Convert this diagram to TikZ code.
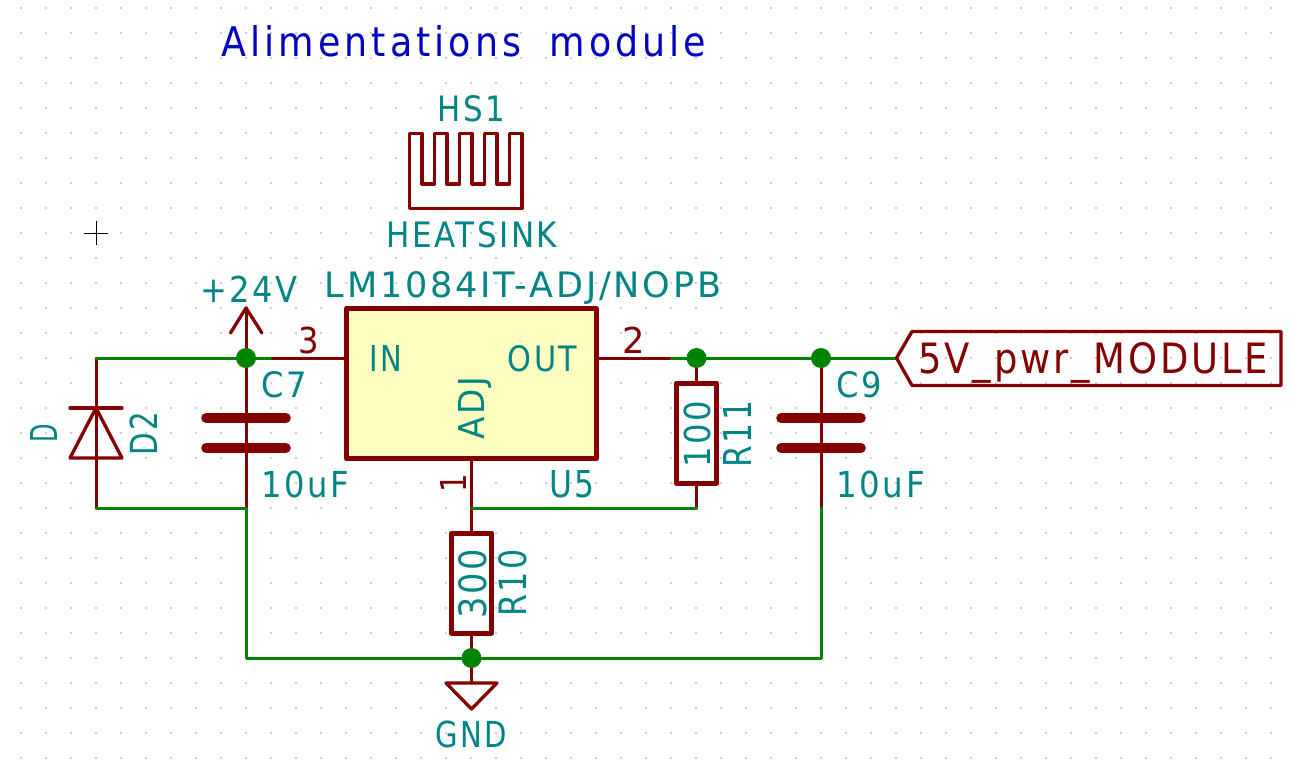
\documentclass[tikz,border=0pt]{standalone}
\usepackage{graphicx}
\usepackage{fontspec}
\setmainfont[LetterSpace=8]{DejaVu Sans}
\newfontfamily\titlefont[LetterSpace=11]{DejaVu Sans}
\usetikzlibrary{calc}
\definecolor{wirec}{HTML}{008400}
\definecolor{partc}{HTML}{840000}
\definecolor{textc}{HTML}{008484}
\definecolor{notec}{HTML}{0000C2}
\definecolor{bodyc}{HTML}{FFFFC2}
\definecolor{gridc}{HTML}{CCCCCC}
\newlength{\pxu}\setlength{\pxu}{0.75pt}
\newcommand{\fitbox}[3]{\pgfmathsetmacro{\wpad}{#1+2.5}\resizebox{\wpad\pxu}{#2\pxu}{#3}}
% \hlbl{name}{x left}{y baseline}{ink width}{cap height}{colour}{text}
\newcommand{\hlbl}[7]{\node[lbl,text=#6,anchor=base west] (#1) at (#2-1.25,#3) {\fitbox{#4}{#5}{#7}};}
% \vlbl{name}{x baseline}{y bottom}{ink length}{cap height}{colour}{text}
\newcommand{\vlbl}[7]{\node[lbl,text=#6,anchor=base west,rotate=90] (#1) at (#2,#3+1.25) {\fitbox{#4}{#5}{#7}};}
\tikzset{
  lbl/.style={inner sep=0pt,outer sep=0pt,font=\fontsize{27}{27}\selectfont},
  wire/.style={draw=wirec,line width=2.25pt,line cap=round,line join=round},
  pin/.style={draw=partc,line width=2.25pt,line cap=round,line join=round},
  thin part/.style={draw=partc,line width=2.5pt,line cap=round,line join=round},
  body/.style={draw=partc,line width=3.75pt,line join=round,inner sep=0pt,outer sep=0pt},
  plate/.style={draw=partc,line width=7.2pt,line cap=round},
  junction/.style={circle,fill=wirec,minimum size=15pt,inner sep=0pt},
}
\begin{document}
\begin{tikzpicture}[x=0.75pt,y=-0.75pt]
\useasboundingbox[fill=white] (0,0) rectangle (1294,770);
% grid
\foreach \i in {0,...,51}\foreach \j in {0,...,30}
  \fill[gridc] (21+25*\i-0.8,8+25*\j-0.8) rectangle ++(1.6,1.6);
% cursor
\coordinate (cl) at (84,233);\coordinate (cr) at (108,233);
\coordinate (ct) at (96,221);\coordinate (cb) at (96,245);
\draw[black,line width=0.75pt] (cl) -- (cr) (ct) -- (cb);

% named points
\coordinate (vin) at (246,358);
\coordinate (vleft) at (96,358);
\coordinate (gl) at (96,508);
\coordinate (c7bot) at (246,508);
\coordinate (c7gnd) at (246,658);
\coordinate (gnd) at (471.5,658);
\coordinate (c9gnd) at (821,658);
\coordinate (c9bot) at (821,508);
\coordinate (vout) at (696.5,358);
\coordinate (c9top) at (821,358);
\coordinate (lbltip) at (896.5,358);
\coordinate (pinin) at (271,358);
\coordinate (pinout) at (671,358);
\coordinate (adjw) at (471.5,508);
\coordinate (r11b) at (696.5,508);
\coordinate (pwrtip) at (246,308);

% regulator body
\node[body,fill=bodyc,minimum width=187.5pt,minimum height=112.5pt,anchor=north west] (u5) at (346.5,308.5) {};
\coordinate (u5in) at (u5.west |- vin);
\coordinate (u5out) at (u5.east |- vin);
\coordinate (u5adj) at (gnd |- u5.south);

% red pins and stubs
\draw[pin] (pinin) -- (u5in);
\draw[pin] (u5out) -- (pinout);
\draw[pin] (u5adj) -- (gnd);
\draw[pin] (vin) -- (pwrtip);
\draw[pin] (vin) -- (c7bot);
\draw[pin] (vout) -- (r11b);
\draw[pin] (c9top) -- (c9bot);
\draw[pin] (vleft) -- (gl);

% wires
\draw[wire] (vleft) -- (pinin);
\draw[wire] (pinout) -- (lbltip);
\draw[wire] (gl) -- (c7bot) -- (c7gnd) -- (c9gnd) -- (c9bot);
\draw[wire] (adjw) -- (r11b);

% +24V arrow
\coordinate (pa) at (230.5,333);\coordinate (pb) at (262,333);
\draw[thin part] (pa) -- (pwrtip) -- (pb);

% C7, C9 plates
\coordinate (c7a1) at (206,418);\coordinate (c7a2) at (286,418);
\coordinate (c7b1) at (206,448);\coordinate (c7b2) at (286,448);
\draw[plate] (c7a1) -- (c7a2);
\draw[plate] (c7b1) -- (c7b2);
\coordinate (c9a1) at (781,418);\coordinate (c9a2) at (861,418);
\coordinate (c9b1) at (781,448);\coordinate (c9b2) at (861,448);
\draw[plate] (c9a1) -- (c9a2);
\draw[plate] (c9b1) -- (c9b2);

% diode
\coordinate (da) at (70,408);\coordinate (db) at (122,408);
\coordinate (dc) at (96,408);\coordinate (dd) at (70,458);\coordinate (de) at (122,458);
\draw[thin part] (da) -- (db);
\draw[thin part] (dc) -- (dd) -- (de) -- cycle;

% resistors
\node[body,fill=white,minimum width=30pt,minimum height=75pt] (r10) at (471.5,583) {};
\node[body,fill=white,minimum width=30pt,minimum height=75pt] (r11) at (696.5,433) {};

% GND symbol
\coordinate (g0) at (471.5,683);\coordinate (ga) at (446,683);\coordinate (gb) at (497,683);\coordinate (gc) at (471.5,709);
\draw[pin] (gnd) -- (g0);
\draw[thin part] (ga) -- (gb) -- (gc) -- cycle;

% heatsink
\coordinate (hs) at (409.5,133.5);
\draw[thin part] (hs) -- ++(12.5,0) -- ++(0,50.5) -- ++(12.5,0) -- ++(0,-50.5) -- ++(12.5,0) -- ++(0,50.5)
  -- ++(12.5,0) -- ++(0,-50.5) -- ++(12.5,0) -- ++(0,50.5) -- ++(12.5,0) -- ++(0,-50.5) -- ++(12.5,0) -- ++(0,50.5)
  -- ++(12.5,0) -- ++(0,-50.5) -- ++(12.5,0) -- ++(0,75) -- ++(-112.5,0) -- cycle;

% global label
\coordinate (la) at (912,331.5);\coordinate (lb) at (1281,331.5);\coordinate (lc) at (1281,385.5);\coordinate (ld) at (912,385.5);
\draw[thin part] (lbltip) -- (la) -- (lb) -- (lc) -- (ld) -- cycle;

% junctions
\node[junction] (j1) at (vin) {};
\node[junction] (j2) at (vout) {};
\node[junction] (j3) at (c9top) {};
\node[junction] (j4) at (gnd) {};

% texts
\hlbl{title}{223}{56.7}{482}{31}{notec}{\titlefont Alimentations\hspace{0.35em} module}
\hlbl{hsref}{439}{122}{65}{26}{textc}{HS1}
\hlbl{hsval}{388}{247}{168}{26}{textc}{HEATSINK}
\hlbl{pwr}{201.7}{302.3}{95}{26.5}{textc}{+24V}
\hlbl{u5val}{326}{297.7}{394}{26}{textc}{LM1084IT-ADJ/NOPB}
\hlbl{p3}{300}{353.3}{18}{26.5}{partc}{3}
\hlbl{p2}{624}{353}{20}{26.5}{partc}{2}
\hlbl{pin1}{370.7}{371}{30}{26}{textc}{IN}
\hlbl{pout}{509}{371}{67}{26}{textc}{OUT}
\hlbl{c7r}{262.7}{397}{43}{26}{textc}{C7}
\hlbl{c7v}{263}{497.7}{85}{26.5}{textc}{10uF}
\hlbl{c9r}{837.6}{397}{43}{26}{textc}{C9}
\hlbl{c9v}{837.6}{497}{86}{26.5}{textc}{10uF}
\hlbl{u5r}{550.7}{497.7}{43}{27}{textc}{U5}
\hlbl{gndl}{436.7}{747.3}{69}{26.6}{textc}{GND}
\hlbl{netl}{919.5}{373.3}{347.5}{31}{partc}{5V\_pwr\_MODULE}
\vlbl{dv}{57.7}{441.7}{16}{27}{textc}{D}
\vlbl{dr}{157.7}{454}{41}{27.7}{textc}{D2}
\vlbl{adj}{484}{438.3}{60}{26}{textc}{ADJ}
\vlbl{p1}{466}{491.7}{16}{26}{partc}{1}
\vlbl{r11v}{710.6}{466}{64.3}{26.6}{textc}{100}
\vlbl{r11r}{751}{466}{64}{28}{textc}{R11}
\vlbl{r10v}{486}{617.7}{67}{28}{textc}{300}
\vlbl{r10r}{526}{615.7}{65}{28}{textc}{R10}
\end{tikzpicture}
\end{document}
